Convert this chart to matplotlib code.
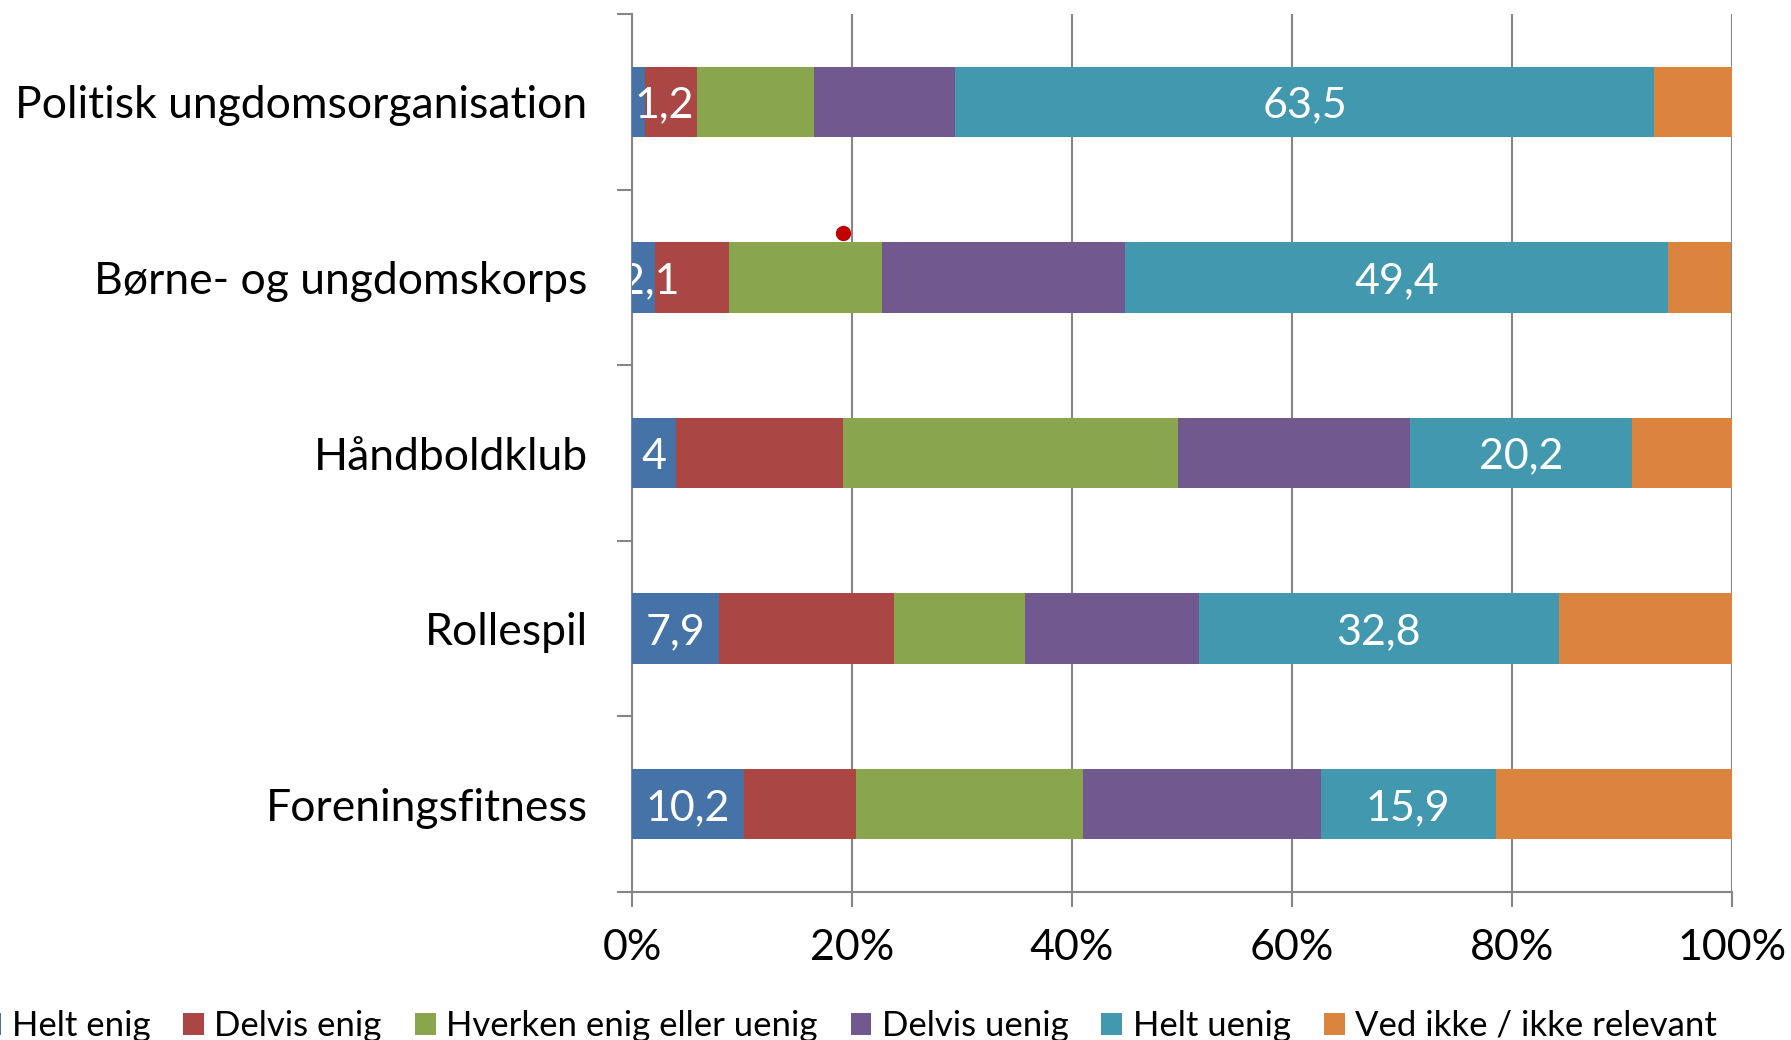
import matplotlib
matplotlib.use("Agg")
import matplotlib.pyplot as plt
from matplotlib.ticker import FixedLocator, PercentFormatter
import numpy as np

plt.rcParams['font.family'] = ['Lato', 'DejaVu Sans']

categories = ["Politisk ungdomsorganisation", "Børne- og ungdomskorps",
              "Håndboldklub", "Rollespil", "Foreningsfitness"]
series_names = ["Helt enig", "Delvis enig", "Hverken enig eller uenig",
                "Delvis uenig", "Helt uenig", "Ved ikke / ikke relevant"]
helt_enig = [1.2, 2.1, 4.0, 7.9, 10.2]
delvis_enig = [4.7, 6.7, 15.2, 15.9, 10.2]
hverken = [10.6, 13.9, 30.4, 11.9, 20.6]
delvis_uenig = [12.9, 22.1, 21.1, 15.8, 21.6]
helt_uenig = [63.5, 49.4, 20.2, 32.8, 15.9]
ved_ikke = [7.1, 5.7, 9.1, 15.7, 21.5]
labelled_series = ["Helt enig", "Helt uenig"]
stray_x = [19.2]
stray_y = [0.75]

colors = ["#4572A7", "#AA4643", "#89A54E", "#71588F", "#4198AF", "#DB843D"]
series = [helt_enig, delvis_enig, hverken, delvis_uenig, helt_uenig, ved_ikke]

fig = plt.figure(figsize=(17.91, 10.40), dpi=100)
ax = fig.add_axes([632/1791, 1-892/1040, 1100/1791, 878/1040])

y = np.arange(len(categories))
left = np.zeros(len(categories))
handles = []
for name, vals, col in zip(series_names, series, colors):
    vals = np.array(vals)
    b = ax.barh(y, vals, left=left, height=0.4, color=col, zorder=3, label=name)
    handles.append(b)
    if name in labelled_series:
        for i, (l, v) in enumerate(zip(left, vals)):
            txt = f"{v:g}".replace(".", ",")
            cx = l + v / 2
            ha = 'center'
            if i == 0 and name == "Helt enig":
                cx, ha = 0.2, 'left'
            elif i == 1 and name == "Helt enig":
                cx = 1.6
            ax.text(cx, i + 0.02, txt, ha=ha, va='center', color='white',
                    fontsize=31, zorder=4, clip_on=True)
    left += vals

ax.plot(stray_x, stray_y, 'o', color='#C00000', markersize=10, zorder=5)

ax.set_xlim(0, 100)
ax.set_ylim(4.5, -0.5)
ax.xaxis.set_major_locator(FixedLocator([0, 20, 40, 60, 80, 100]))
ax.xaxis.set_major_formatter(PercentFormatter(decimals=0))
ax.set_yticks(y)
ax.set_yticklabels(categories)
ax.yaxis.set_minor_locator(FixedLocator(np.arange(-0.5, 5, 1)))
ax.tick_params(axis='y', which='major', length=0, pad=32, labelsize=32)
ax.tick_params(axis='y', which='minor', length=11, width=1.5, color='#868686')
ax.tick_params(axis='x', which='major', length=11, width=1.5, color='#868686',
               pad=16, labelsize=31)
ax.grid(axis='x', color='#868686', linewidth=1.5, zorder=0)
for s in ['top', 'right']:
    ax.spines[s].set_visible(False)
for s in ['left', 'bottom']:
    ax.spines[s].set_color('#868686')
    ax.spines[s].set_linewidth(1.5)

fig.legend(handles=handles, labels=series_names, loc='center',
           bbox_to_anchor=(0.4738, 0.0135), ncol=6, frameon=False, fontsize=25,
           handlelength=0.6, handleheight=0.6, handletextpad=0.3,
           columnspacing=0.95, borderaxespad=0)

fig.savefig("out.png", dpi=100)
